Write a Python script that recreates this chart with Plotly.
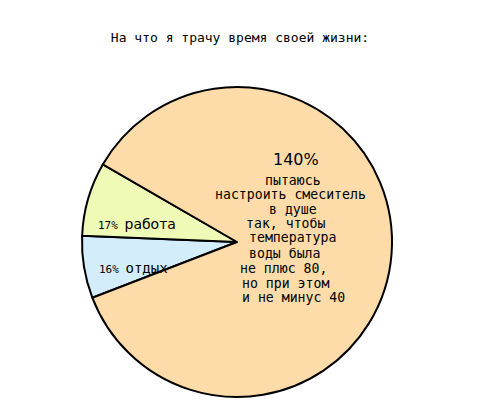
import plotly.graph_objects as go

# доли круга, как нарисовано на картинке (по часовой стрелке)
slices = ["отдых", "работа", "смеситель"]
shares = [6.5, 7.7, 85.8]
colors = ["#D3EEFA", "#EEFAB6", "#FDDCAA"]

# подписи
pct_labels = ["16%", "17%", "140%"]
big_lines = [
    "пытаюсь",
    "настроить смеситель",
    "в душе",
    "так, чтобы",
    "температура",
    "воды была",
    "не плюс 80,",
    "но при этом",
    "и не минус 40",
]

W, H = 480, 419
OFF = 8  # отступ body на странице
cx, cy, r = 237 - OFF, 242 - OFF, 155

fig = go.Figure(go.Pie(
    labels=slices,
    values=shares,
    sort=False,
    direction="clockwise",
    rotation=-111.1,
    textinfo="none",
    hoverinfo="label",
    showlegend=False,
    marker=dict(colors=colors, line=dict(color="black", width=2)),
    domain=dict(x=[(cx - r) / W, (cx + r) / W],
                y=[(H - cy - r) / H, (H - cy + r) / H]),
))

mono = "DejaVu Sans Mono"
sans = "DejaVu Sans"


def px(x, y):
    return (x - OFF) / W, 1 - (y - OFF) / H


ann = []
# 140%
x, y = px(296, 159)
ann.append(dict(x=x, y=y, xanchor="center", text=pct_labels[2],
                font=dict(family=sans, size=16)))
# длинная подпись
line_y = [180, 194, 209, 223, 238, 253, 268, 283, 297]
line_x = [293, 290, 293, 285, 292, 284, 283, 285, 293]
for t, lx, ly in zip(big_lines, line_x, line_y):
    x, y = px(lx, ly)
    ann.append(dict(x=x, y=y, xanchor="center", text=t,
                    font=dict(family=mono, size=13.2)))
# работа / отдых
x, y = px(96, 224)
ann.append(dict(x=x, y=y, xanchor="left",
                text=pct_labels[1] + " <span style='font-size:14px;font-family:DejaVu Sans'>работа</span>",
                font=dict(family=mono, size=11)))
x, y = px(97, 268)
ann.append(dict(x=x, y=y, xanchor="left",
                text=pct_labels[0] + " <span style='font-size:14px'>отдых</span>",
                font=dict(family=mono, size=11)))

for a in ann:
    a.update(xref="paper", yref="paper", yanchor="middle",
             showarrow=False, font_color="black")

fig.update_layout(
    width=W, height=H,
    margin=dict(l=0, r=0, t=0, b=0),
    paper_bgcolor="white",
    plot_bgcolor="white",
    title=dict(text="На что я трачу время своей жизни:",
               x=(240 - OFF) / W, xanchor="center", y=1 - (37 - OFF) / H, yanchor="middle",
               font=dict(family=mono, size=13, color="black")),
    annotations=ann,
)

fig.write_html("out.html")
